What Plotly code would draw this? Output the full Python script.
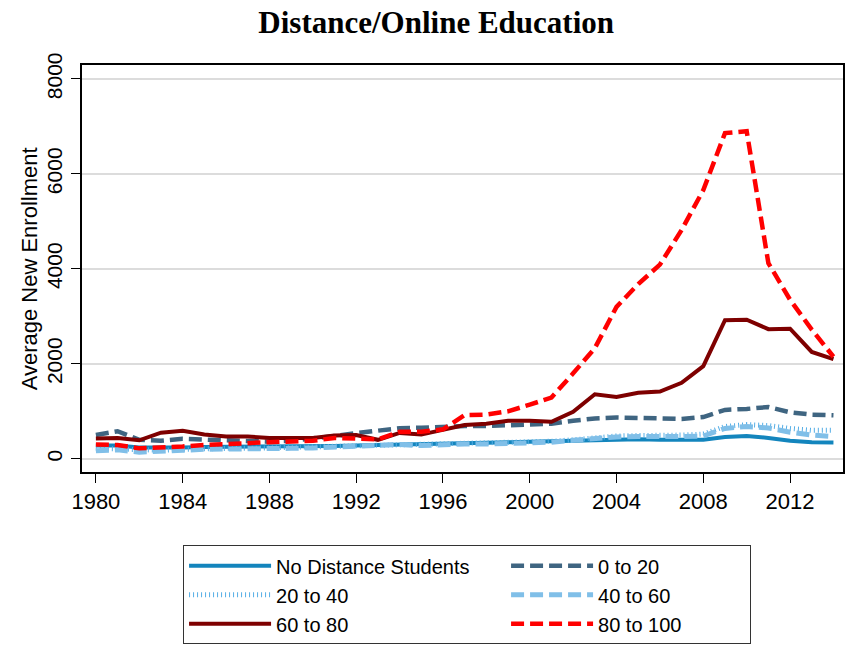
import plotly.graph_objects as go

# Academic years covered
years = list(range(1980, 2015))

# Average new enrollment by share of students enrolled in distance education
no_distance = [280, 280, 240, 230, 240, 250, 250, 250, 250, 260, 260, 270, 280, 290, 300, 310, 320, 330, 330, 340,
               350, 360, 370, 390, 410, 410, 400, 390, 400, 460, 480, 440, 380, 350, 345]
pct_0_20 = [500, 580, 400, 380, 420, 400, 380, 360, 360, 380, 420, 480, 540, 600, 645, 655, 680, 690, 690, 700,
            720, 740, 800, 850, 870, 860, 850, 840, 880, 1030, 1050, 1090, 980, 930, 915]
pct_20_40 = [220, 210, 180, 180, 200, 220, 220, 220, 230, 240, 250, 270, 280, 290, 310, 300, 310, 320, 330, 340,
             350, 370, 400, 440, 480, 490, 490, 500, 520, 680, 720, 700, 640, 600, 600]
pct_40_60 = [170, 190, 140, 150, 180, 200, 200, 210, 210, 220, 230, 250, 270, 280, 300, 280, 300, 310, 310, 320,
             330, 350, 390, 430, 460, 470, 460, 470, 480, 640, 680, 650, 560, 500, 470]
pct_60_80 = [430, 440, 390, 550, 590, 510, 470, 470, 440, 450, 440, 490, 500, 400, 545, 510, 620, 710, 740, 800,
             800, 780, 990, 1360, 1300, 1390, 1415, 1600, 1950, 2920, 2930, 2730, 2740, 2250, 2100]
pct_80_100 = [300, 290, 220, 230, 260, 290, 300, 330, 350, 360, 380, 440, 430, 410, 570, 570, 620, 920, 930, 1000,
              1140, 1290, 1800, 2330, 3200, 3680, 4090, 4820, 5660, 6860, 6900, 4120, 3350, 2720, 2150]

# (label, values, line style, legend entry width) -- legend fills two columns row by row
series = [
    ("No Distance Students", no_distance, dict(color="#1385bd", width=4, dash="solid"), 225),
    ("0 to 20", pct_0_20, dict(color="#3f6581", width=4.5, dash="13px,6px"), 147),
    ("20 to 40", pct_20_40, dict(color="#55aee6", width=5, dash="1px,3px"), 225),
    ("40 to 60", pct_40_60, dict(color="#80bfe8", width=5, dash="13px,6px"), 147),
    ("60 to 80", pct_60_80, dict(color="#7e0000", width=4, dash="solid"), 225),
    ("80 to 100", pct_80_100, dict(color="#ff0000", width=4.5, dash="13px,6px"), 147),
]

x_ticks = [1980, 1984, 1988, 1992, 1996, 2000, 2004, 2008, 2012]
y_ticks = [0, 2000, 4000, 6000, 8000]

fig = go.Figure()
for name, vals, line, lw in series:
    fig.add_trace(go.Scatter(x=years, y=vals, mode="lines", name=name, line=line, legendwidth=lw))

font_main = "Liberation Sans, Arial, sans-serif"

fig.update_layout(
    width=847,
    height=646,
    margin=dict(l=82, r=2, t=65, b=173),
    paper_bgcolor="white",
    plot_bgcolor="white",
    font=dict(family=font_main, size=20, color="black"),
    title=dict(
        text="<b>Distance/Online Education</b>",
        font=dict(family="Liberation Serif, Times New Roman, serif", size=31, color="black"),
        x=0.515, xref="container", xanchor="center",
        y=0.965, yref="container", yanchor="middle",
    ),
    showlegend=True,
    legend=dict(
        orientation="h",
        x=0.506, xanchor="center",
        y=-0.18, yanchor="top",
        bordercolor="#333333", borderwidth=1,
        bgcolor="white",
        font=dict(family=font_main, size=20, color="black"),
        entrywidthmode="pixels",
        itemwidth=82,
        traceorder="normal",
    ),
    annotations=[
        dict(
            text="Average New Enrollment",
            xref="paper", yref="paper",
            x=-0.0685, y=0.5, xanchor="center", yanchor="middle",
            textangle=-90, showarrow=False,
            font=dict(family=font_main, size=22, color="black"),
        )
    ],
)

fig.update_xaxes(
    range=[1979.36, 2014.44],
    tickmode="array", tickvals=x_ticks, ticktext=[str(v) for v in x_ticks],
    ticks="outside", ticklen=9, tickwidth=1.2, tickcolor="black",
    showgrid=False, zeroline=False,
    showline=True, linecolor="black", linewidth=1.5, mirror=True,
    tickfont=dict(family=font_main, size=22),
)
fig.update_yaxes(
    range=[-278, 8294],
    tickmode="array", tickvals=y_ticks, ticktext=[str(v) for v in y_ticks],
    tickangle=-90,
    ticks="outside", ticklen=9, tickwidth=1.2, tickcolor="black",
    ticklabelstandoff=1,
    showgrid=True, gridcolor="#dcdcdc", gridwidth=1.5,
    zeroline=False,
    showline=True, linecolor="black", linewidth=1.5, mirror=True,
    tickfont=dict(family=font_main, size=21),
)

fig.write_html("out.html")
